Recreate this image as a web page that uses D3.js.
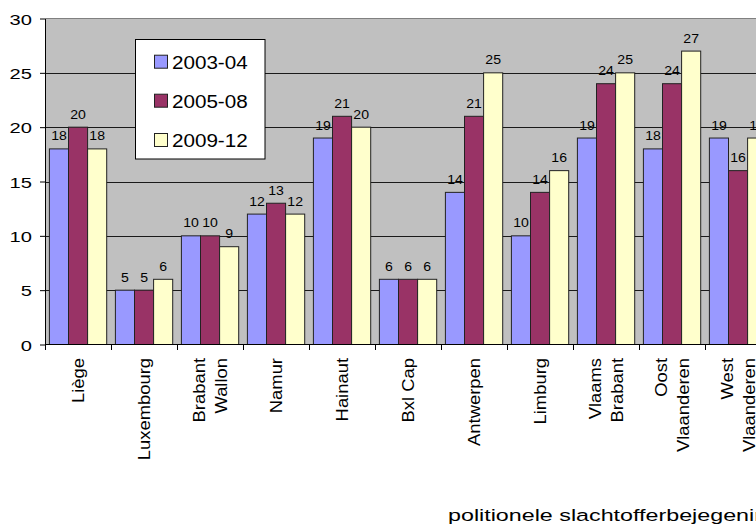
<!DOCTYPE html>
<html><head><meta charset="utf-8">
<script src="https://cdn.jsdelivr.net/npm/d3@7"></script>
<style>html,body{margin:0;padding:0;overflow:hidden;background:#fff}
text{font-family:"Liberation Sans",Arial,sans-serif;fill:#000}</style>
</head><body>
<svg id="chart" width="900" height="527"></svg>
<script>
const categories = ["Liège","Luxembourg","Brabant\nWallon","Namur","Hainaut","Bxl Cap","Antwerpen","Limburg","Vlaams\nBrabant","Oost\nVlaanderen","West\nVlaanderen"];
const seriesNames = ["2003-04","2005-08","2009-12"];
const values2003 = [18,5,10,12,19,6,14,10,19,18,19];
const values2005 = [20,5,10,13,21,6,21,14,24,24,16];
const values2009 = [18,6,9,12,20,6,25,16,25,27,19];
const yTicks = [0,5,10,15,20,25,30];
const colors = ["#9999FF","#993366","#FFFFCC"];
const xTitle = "politionele slachtofferbejegening";

const seriesValues = [values2003, values2005, values2009];
const svg = d3.select("#chart");
const plotLeft = 45, plotTop = 18.5, plotBottom = 344.5, plotRight = 810;

const x0 = d3.scaleBand().domain(categories).range([plotLeft, plotLeft + 66 * categories.length]).padding(0);
const x1 = d3.scaleBand().domain(seriesNames).range([4.4, 61.7]).padding(0);
const y = d3.scaleLinear().domain([0, 30]).range([plotBottom, plotTop]);

// plot background
svg.append("rect").attr("x", plotLeft).attr("y", plotTop).attr("width", plotRight - plotLeft).attr("height", plotBottom - plotTop).attr("fill", "#C0C0C0");
svg.append("line").attr("x1", plotLeft).attr("x2", plotRight).attr("y1", plotTop).attr("y2", plotTop).attr("stroke", "#808080").attr("shape-rendering","crispEdges");

// gridlines
const grid = svg.append("g").attr("transform", `translate(${plotLeft},0)`)
  .call(d3.axisLeft(y).tickValues(yTicks.filter(t => t > 0 && t < 30)).tickSize(-(plotRight - plotLeft)).tickFormat(""));
grid.select(".domain").remove();
grid.selectAll("line").attr("stroke", "#1a1a1a").attr("shape-rendering","crispEdges");

// bars
const rows = categories.map((c, i) => ({cat: c, vals: seriesNames.map((s, j) => ({s, j, v: seriesValues[j][i]}))}));
const groups = svg.append("g").selectAll("g").data(rows).join("g")
  .attr("transform", d => `translate(${x0(d.cat)},0)`);
groups.selectAll("rect").data(d => d.vals).join("rect")
  .attr("x", d => x1(d.s)).attr("width", x1.bandwidth())
  .attr("y", d => y(d.v)).attr("height", d => y(0) - y(d.v))
  .attr("fill", d => colors[d.j]).attr("stroke", "#222").attr("stroke-width", 1);
groups.selectAll("text").data(d => d.vals).join("text")
  .attr("transform", d => `translate(${x1(d.s) + x1.bandwidth() / 2},${y(d.v) - 8.5}) scale(1.1,1)`)
  .attr("text-anchor", "middle").style("font-size", "12.8px").text(d => d.v);

// y axis
const yAxis = svg.append("g").attr("transform", `translate(${plotLeft},0)`)
  .call(d3.axisLeft(y).tickValues(yTicks).tickSize(5).tickSizeOuter(0).tickFormat(d3.format("d")));
yAxis.attr("font-size", null).attr("font-family", null);
yAxis.select(".domain").attr("stroke", "#000");
yAxis.selectAll(".tick line").attr("stroke", "#000");
yAxis.selectAll(".tick text").attr("x", null).attr("dy", null)
  .attr("transform", "translate(-13,5.5) scale(1.3,1)").style("font-size", "15.5px").attr("text-anchor", "end");

// x axis
const xAxis = svg.append("g").attr("transform", `translate(0,${plotBottom})`)
  .call(d3.axisBottom(x0).tickSize(0).tickFormat(""));
xAxis.select(".domain").attr("stroke", "#000").attr("d", `M${plotLeft},0H${plotRight}`);
xAxis.selectAll(".tick").remove();
const boundaries = categories.map(c => x0(c));
xAxis.selectAll("line.b").data(boundaries).join("line").attr("class","b")
  .attr("x1", d => d).attr("x2", d => d).attr("y1", 0).attr("y2", 5.5).attr("stroke", "#000").attr("shape-rendering","crispEdges");

// category labels (rotated)
const labels = svg.append("g").selectAll("text").data(categories).join("text")
  .attr("transform", d => `translate(${x0(d) + x0.bandwidth() / 2},358) rotate(-90) scale(1.15,1)`)
  .attr("text-anchor", "end").style("font-size", "16px");
labels.each(function(d) {
  const lines = d.split("\n");
  const n = lines.length;
  d3.select(this).selectAll("tspan").data(lines).join("tspan")
    .attr("x", 0).attr("y", (t, i) => (i - (n - 1) / 2) * 22 + 5.8).text(t => t);
});

// x title
svg.append("text").attr("transform", "translate(448,521) scale(1.37,1)")
  .style("font-size", "17px").text(xTitle);

// legend
const lg = svg.append("g");
lg.append("rect").attr("x", 135.5).attr("y", 39.5).attr("width", 129.5).attr("height", 119.5)
  .attr("fill", "#fff").attr("stroke", "#000");
const rowY = [61.7, 100.7, 140];
seriesNames.forEach((s, i) => {
  lg.append("rect").attr("x", 154.5).attr("y", rowY[i] - 6.5).attr("width", 13).attr("height", 13)
    .attr("fill", colors[i]).attr("stroke", "#222");
  lg.append("text").attr("transform", `translate(172,${rowY[i] + 6.8}) scale(1.11,1)`)
    .style("font-size", "18.6px").text(s);
});
</script>
</body></html>
